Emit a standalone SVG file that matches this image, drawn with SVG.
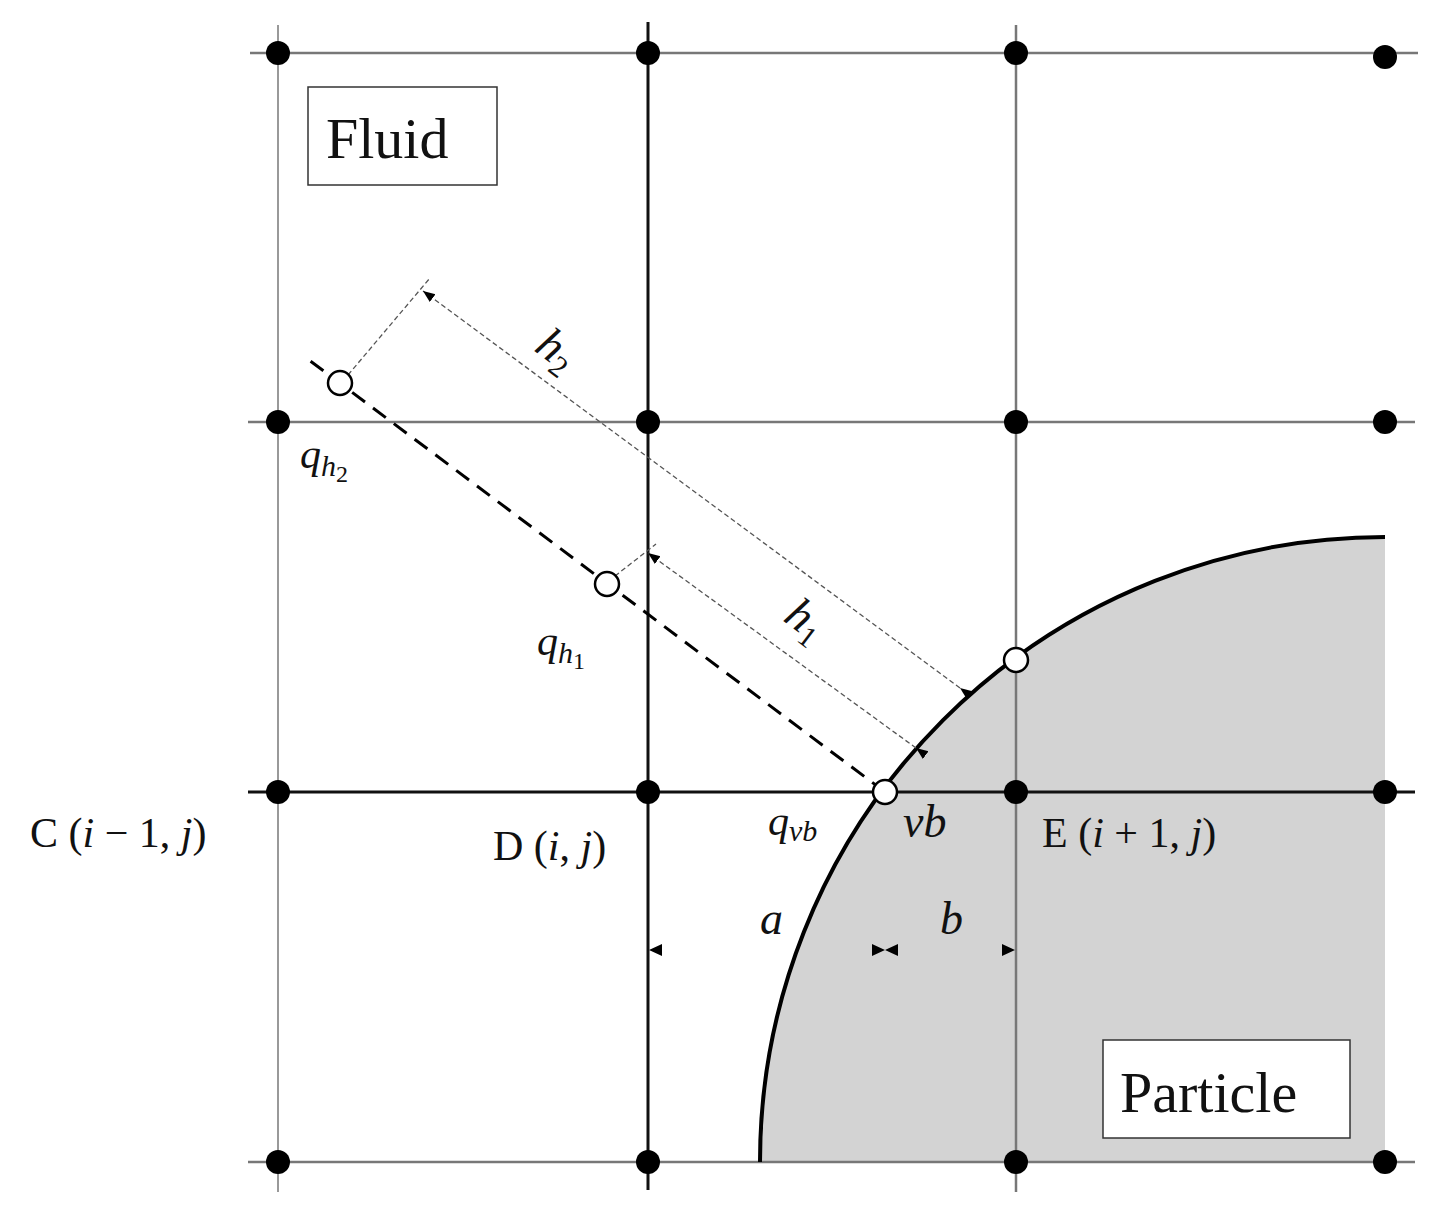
<svg xmlns="http://www.w3.org/2000/svg" width="1440" height="1212" viewBox="0 0 1440 1212">
<style>
.g1{stroke:#999;stroke-width:2;fill:none}
.g2{stroke:#777;stroke-width:2.5;fill:none}
.k{stroke:#111;stroke-width:3;fill:none}
.dot{fill:#000}
.open{fill:#fff;stroke:#000;stroke-width:2.5}
.t{font-family:"Liberation Serif",serif;font-size:42px;fill:#111}
.i{font-style:italic}
.dim{stroke:#555;stroke-width:1.3;stroke-dasharray:5 3;fill:none}
</style>
<defs>
<marker id="ah" viewBox="0 0 10 10" refX="10" refY="5" markerWidth="12" markerHeight="12" markerUnits="userSpaceOnUse" orient="auto"><path d="M0,1 L10,5 L0,9z" fill="#000"/></marker>
</defs>
<rect width="1440" height="1212" fill="#fff"/>
<path id="particle-fill" d="M760,1162 A625,625 0 0 1 1385,537 L1385,1162 Z" fill="#d3d3d3"/>
<g id="grid">
<line class="g1" x1="278" y1="25" x2="278" y2="1192"/>
<line class="g2" x1="1016" y1="25" x2="1016" y2="1192"/>
<line class="k" x1="648" y1="22" x2="648" y2="1190"/>
<line class="g2" x1="250" y1="53" x2="1418" y2="53"/>
<line class="g2" x1="248" y1="422" x2="1415" y2="422"/>
<line class="k" x1="248" y1="792" x2="1415" y2="792"/>
<line class="g2" x1="248" y1="1162" x2="1415" y2="1162"/>
</g>
<path id="boundary" d="M760,1162 A625,625 0 0 1 1385,537" stroke="#000" stroke-width="4" fill="none"/>
<g id="connectors">
<line x1="885" y1="792" x2="305" y2="357" stroke="#000" stroke-width="3" stroke-dasharray="16 10"/>
<line class="dim" x1="615" y1="576" x2="656" y2="544"/>
<line class="dim" x1="348" y1="375" x2="430" y2="278"/>
<line class="dim" x1="916" y1="748" x2="648" y2="553" marker-start="url(#ah)" marker-end="url(#ah)"/>
<line class="dim" x1="960" y1="688" x2="423" y2="291" marker-start="url(#ah)" marker-end="url(#ah)"/>
<path d="M649,950 L662,944 L662,956Z M885,950 L872,944 L872,956Z M885,950 L898,944 L898,956Z M1015,950 L1002,944 L1002,956Z" fill="#000"/>
</g>
<g id="nodes">
<circle class="dot" cx="278" cy="53" r="12"/><circle class="dot" cx="648" cy="53" r="12"/><circle class="dot" cx="1016" cy="53" r="12"/><circle class="dot" cx="1385" cy="57" r="12"/>
<circle class="dot" cx="278" cy="422" r="12"/><circle class="dot" cx="648" cy="422" r="12"/><circle class="dot" cx="1016" cy="422" r="12"/><circle class="dot" cx="1385" cy="422" r="12"/>
<circle class="dot" cx="278" cy="792" r="12"/><circle class="dot" cx="648" cy="792" r="12"/><circle class="dot" cx="1016" cy="792" r="12"/><circle class="dot" cx="1385" cy="792" r="12"/>
<circle class="dot" cx="278" cy="1162" r="12"/><circle class="dot" cx="648" cy="1162" r="12"/><circle class="dot" cx="1016" cy="1162" r="12"/><circle class="dot" cx="1385" cy="1162" r="12"/>
<circle class="open" cx="340" cy="383" r="12"/>
<circle class="open" cx="607" cy="584" r="12"/>
<circle class="open" cx="1016" cy="660" r="12"/>
<circle class="open" cx="885" cy="792" r="12"/>
</g>
<g id="fluid"><rect x="308" y="87" width="189" height="98" fill="#fff" stroke="#333" stroke-width="1.5"/><text class="t" x="326" y="158" style="font-size:58px">Fluid</text></g>
<g id="particle"><rect x="1103" y="1040" width="247" height="98" fill="#fff" stroke="#333" stroke-width="1.5"/><text class="t" x="1120" y="1112" style="font-size:58px">Particle</text></g>
<g id="labels">
<text class="t i" x="300" y="468">q<tspan style="font-size:30px" dy="8">h</tspan><tspan style="font-size:24px;font-style:normal" dy="6">2</tspan></text>
<text class="t i" x="537" y="655">q<tspan style="font-size:30px" dy="8">h</tspan><tspan style="font-size:24px;font-style:normal" dy="6">1</tspan></text>
<text class="t i" x="768" y="835">q<tspan style="font-size:30px" dy="6">vb</tspan></text>
<text class="t i" x="903" y="837" style="font-size:46px">vb</text>
<text class="t i" x="760" y="934" style="font-size:46px">a</text>
<text class="t i" x="940" y="934" style="font-size:46px">b</text>
<text class="t i" transform="translate(533,350) rotate(37)" style="font-size:46px">h<tspan style="font-size:30px;font-style:normal" dy="8">2</tspan></text>
<text class="t i" transform="translate(782,620) rotate(37)" style="font-size:46px">h<tspan style="font-size:30px;font-style:normal" dy="8">1</tspan></text>
<text class="t" x="30" y="847">C (<tspan class="i">i</tspan> − 1, <tspan class="i">j</tspan>)</text>
<text class="t" x="493" y="860">D (<tspan class="i">i</tspan>, <tspan class="i">j</tspan>)</text>
<text class="t" x="1042" y="847">E (<tspan class="i">i</tspan> + 1, <tspan class="i">j</tspan>)</text>
</g>
</svg>
